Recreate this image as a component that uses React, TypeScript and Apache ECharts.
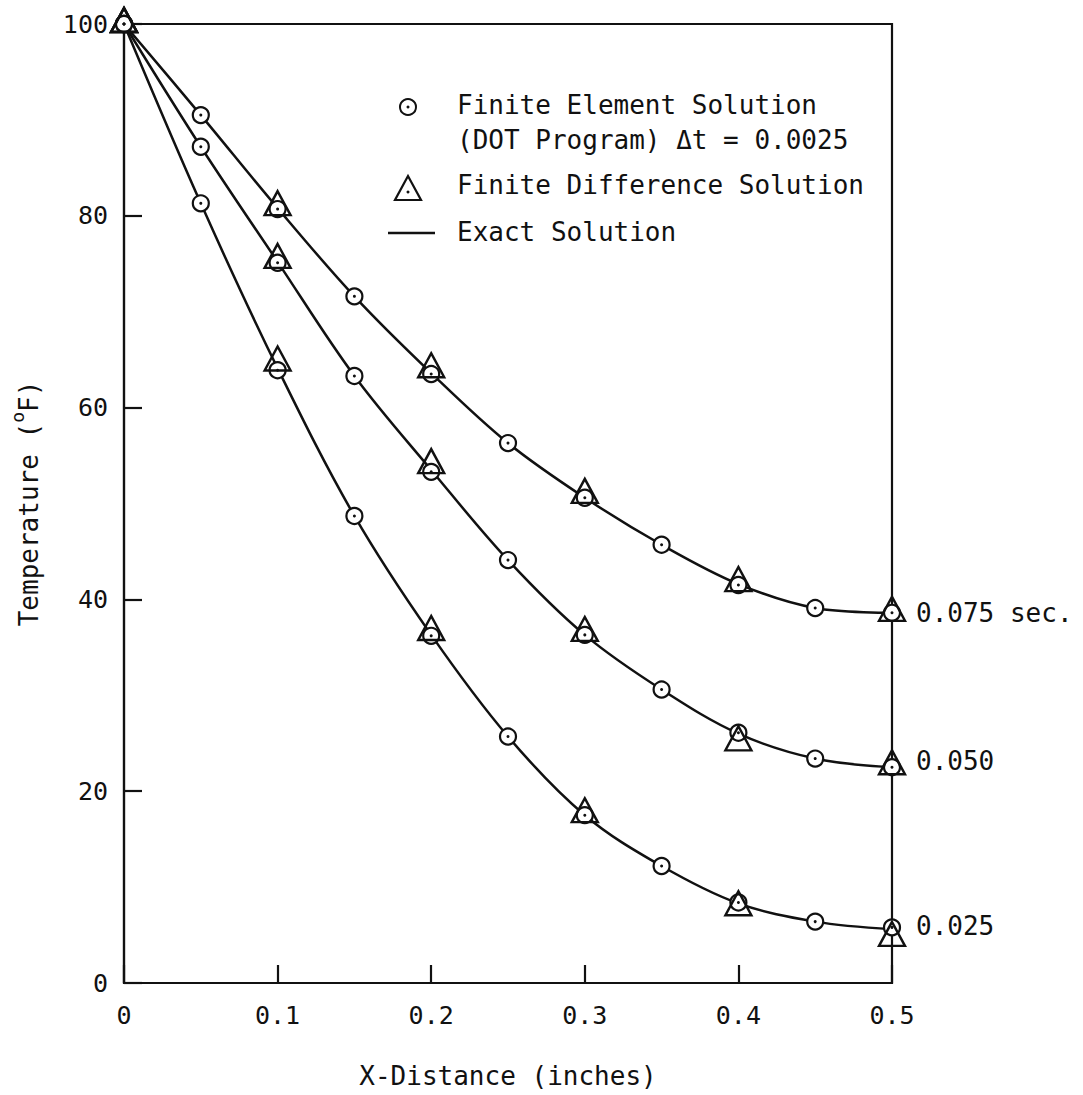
import React, { useEffect, useRef } from "react";
import * as echarts from "echarts";

const FONT = "'DejaVu Sans Mono', 'Liberation Mono', monospace";
const INK = "#111";

// Finite element solution (circles), x every 0.05 in.
const xFE = [0, 0.05, 0.1, 0.15, 0.2, 0.25, 0.3, 0.35, 0.4, 0.45, 0.5];
const fe075 = [100, 90.5, 80.7, 71.6, 63.5, 56.3, 50.6, 45.7, 41.5, 39.1, 38.6];
const fe050 = [100, 87.2, 75.1, 63.3, 53.3, 44.1, 36.3, 30.6, 26.1, 23.4, 22.5];
const fe025 = [100, 81.3, 63.9, 48.7, 36.2, 25.7, 17.5, 12.2, 8.4, 6.4, 5.8];

// Finite difference solution (triangles), x every 0.1 in.
const xFD = [0, 0.1, 0.2, 0.3, 0.4, 0.5];
const fd075 = [100, 80.9, 64.0, 50.9, 41.7, 38.6];
const fd050 = [100, 75.4, 54.0, 36.5, 25.1, 22.6];
const fd025 = [100, 64.7, 36.6, 17.6, 7.9, 4.7];

// Exact solution curves
const xEx = [0, 0.05, 0.1, 0.15, 0.2, 0.25, 0.3, 0.35, 0.4, 0.45, 0.5];
const ex075 = [100, 90.5, 80.8, 71.6, 63.6, 56.3, 50.6, 45.7, 41.6, 39.1, 38.6];
const ex050 = [100, 87.2, 75.2, 63.3, 53.5, 44.1, 36.3, 30.6, 26.0, 23.4, 22.5];
const ex025 = [100, 81.3, 64.1, 48.7, 36.3, 25.7, 17.5, 12.2, 8.3, 6.4, 5.6];
const curveLabels = ["0.075 sec.", "0.050", "0.025"];

const xTicks = [0, 0.1, 0.2, 0.3, 0.4, 0.5];
const yTicks = [0, 20, 40, 60, 80, 100];

const zip = (xs: number[], ys: number[]) => xs.map((x, i) => [x, ys[i]]);

export default function App() {
  const ref = useRef<HTMLDivElement>(null);
  useEffect(() => {
    if (!ref.current) return;
    const chart = echarts.init(ref.current, null, { renderer: "svg" });
    const exact = [ex075, ex050, ex025];
    const fes = [fe075, fe050, fe025];
    const fds = [fd075, fd050, fd025];
    const series: any[] = [];
    exact.forEach((ys, i) => {
      series.push({
        type: "line",
        data: zip(xEx, ys),
        smooth: 0.35,
        showSymbol: false,
        symbol: "none",
        lineStyle: { color: INK, width: 2.5 },
        z: 1,
        endLabel: {
          show: true,
          formatter: curveLabels[i],
          distance: 24,
          fontFamily: FONT,
          fontSize: 26,
          color: INK,
          offset: [0, i === 1 ? -6 : i === 2 ? -3 : 0],
        },
      });
    });
    fes.forEach((ys) => {
      series.push({
        type: "scatter",
        data: zip(xFE, ys),
        symbol: "circle",
        symbolSize: 16,
        itemStyle: { color: "#fff", borderColor: INK, borderWidth: 2.2, opacity: 1 },
        z: 3,
      });
    });
    fds.forEach((ys) => {
      series.push({
        type: "scatter",
        data: zip(xFD, ys),
        symbol: "triangle",
        symbolSize: [26, 24],
        symbolOffset: [0, -4],
        itemStyle: { color: "none", borderColor: INK, borderWidth: 2.4, opacity: 1 },
        z: 4,
      });
    });
    fes.forEach((ys) => {
      series.push({
        type: "scatter",
        data: zip(xFE, ys),
        symbol: "circle",
        symbolSize: 3,
        itemStyle: { color: INK, opacity: 1 },
        z: 5,
      });
    });

    const legX = 408;
    chart.setOption({
      animation: false,
      backgroundColor: "#fff",
      grid: {
        left: 124,
        right: 191,
        top: 24,
        bottom: 112,
        show: true,
        borderColor: INK,
        borderWidth: 2.2,
        backgroundColor: "transparent",
        containLabel: false,
        outerBoundsMode: "none",
      },
      xAxis: {
        type: "value",
        min: xTicks[0],
        max: xTicks[xTicks.length - 1],
        interval: 0.1,
        name: "X-Distance (inches)",
        nameLocation: "middle",
        nameGap: 80,
        nameTextStyle: { fontFamily: FONT, fontSize: 26, color: INK },
        axisLine: { show: true, lineStyle: { color: INK, width: 2.2 } },
        axisTick: { show: true, inside: true, length: 18, lineStyle: { color: INK, width: 2.2 } },
        axisLabel: {
          margin: 20,
          fontFamily: FONT,
          fontSize: 25,
          color: INK,
          formatter: (v: number) => (v === 0 ? "0" : v.toFixed(1)),
        },
        splitLine: { show: false },
      },
      yAxis: {
        type: "value",
        min: yTicks[0],
        max: yTicks[yTicks.length - 1],
        interval: 20,
        name: "{n|Temperature (}{s|o}{n|F)}",
        nameLocation: "middle",
        nameRotate: 90,
        nameGap: 82,
        nameTextStyle: {
          fontFamily: FONT,
          fontSize: 26,
          color: INK,
          padding: [0, 0, 0, 0],
          rich: {
            n: { fontFamily: FONT, fontSize: 26, color: INK, lineHeight: 34, verticalAlign: "bottom" },
            s: { fontFamily: FONT, fontSize: 18, color: INK, lineHeight: 34, verticalAlign: "top" },
          },
        },
        axisLine: { show: true, lineStyle: { color: INK, width: 2.2 } },
        axisTick: { show: true, inside: true, length: 18, lineStyle: { color: INK, width: 2.2 } },
        axisLabel: { margin: 16, fontFamily: FONT, fontSize: 25, color: INK },
        splitLine: { show: false },
      },
      graphic: [
        { type: "circle", shape: { cx: legX, cy: 107, r: 8 }, style: { fill: "#fff", stroke: INK, lineWidth: 2 } },
        { type: "circle", shape: { cx: legX, cy: 107, r: 1.5 }, style: { fill: INK } },
        {
          type: "text",
          left: 457,
          top: 92,
          style: { text: "Finite Element Solution", fontFamily: FONT, fontSize: 26, fill: INK },
        },
        {
          type: "text",
          left: 457,
          top: 127,
          style: { text: "(DOT Program) Δt = 0.0025", fontFamily: FONT, fontSize: 26, fill: INK },
        },
        {
          type: "polygon",
          shape: { points: [[legX, 176], [legX - 13, 200], [legX + 13, 200]] },
          style: { fill: "none", stroke: INK, lineWidth: 2.2 },
        },
        { type: "circle", shape: { cx: legX, cy: 192, r: 1.5 }, style: { fill: INK } },
        {
          type: "text",
          left: 457,
          top: 172,
          style: { text: "Finite Difference Solution", fontFamily: FONT, fontSize: 26, fill: INK },
        },
        { type: "line", shape: { x1: 388, y1: 233, x2: 435, y2: 233 }, style: { stroke: INK, lineWidth: 2.5 } },
        {
          type: "text",
          left: 457,
          top: 219,
          style: { text: "Exact Solution", fontFamily: FONT, fontSize: 26, fill: INK },
        },
      ],
      series,
    });
    return () => chart.dispose();
  }, []);
  return (
    <div
      ref={ref}
      style={{ position: "absolute", left: 0, top: 0, width: 1083, height: 1095, background: "#fff" }}
    />
  );
}
